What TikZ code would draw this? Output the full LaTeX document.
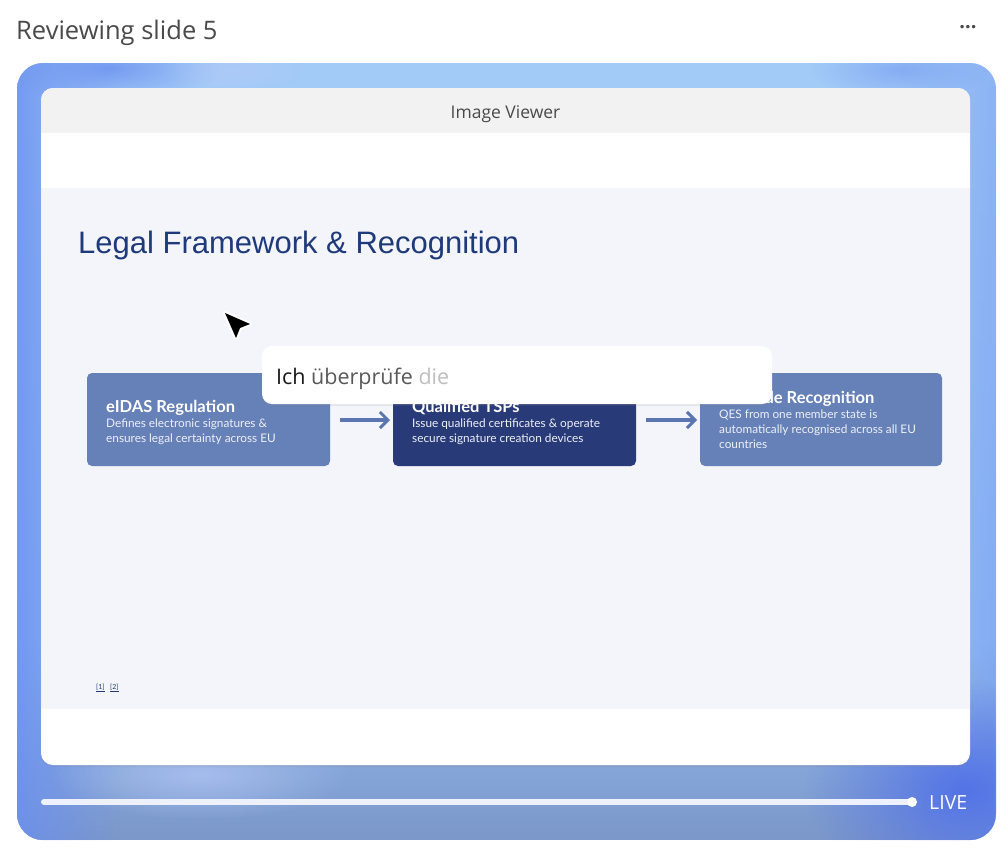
\documentclass[tikz,border=0pt]{standalone}
\usepackage{fontspec}
\setmainfont{Lato}
\newfontfamily\uifont{Open Sans}
\newfontfamily\arialfont{Liberation Sans}
\usetikzlibrary{fadings,shadows,arrows.meta}
\definecolor{boxlight}{HTML}{6680B8}
\definecolor{boxdark}{HTML}{293A78}
\definecolor{arrowc}{HTML}{5B75B0}
\definecolor{titleblue}{HTML}{1F3A7A}
\definecolor{slidebg}{HTML}{F4F5FA}
\definecolor{barbg}{HTML}{F2F2F2}
\definecolor{uigray}{HTML}{4A4A4A}
\definecolor{framebase}{HTML}{96C0F5}
\definecolor{frametop}{HTML}{A3CBF7}
\definecolor{framebottom}{HTML}{7C97C9}
\definecolor{frameleft}{HTML}{6A8FF0}
\definecolor{framecorner}{HTML}{4F6FE8}
\definecolor{framelight}{HTML}{B4C8F7}
\definecolor{sliderc}{HTML}{EEF1FB}
\tikzfading[name=softblob, inner color=transparent!0, outer color=transparent!100]
\tikzset{
  stepbox/.style={rounded corners=5pt, inner sep=0pt},
  flowarrow/.style={draw=arrowc, line width=3.5pt, -{Straight Barb[length=8pt,width=16pt,line width=3pt]}},
  boxtitle/.style={anchor=base west, inner sep=0pt, text=white, font=\bfseries\fontsize{16.5}{18}\selectfont},
  boxtext/.style={anchor=north west, inner sep=0pt, text=white!88!boxlight, align=left, font=\fontsize{11.8}{15}\selectfont},
  blob/.style={path fading=softblob},
}
\begin{document}
\begin{tikzpicture}[x=1pt,y=-1pt]
\useasboundingbox (0,0) rectangle (1008,852);
\fill[white] (0,0) rectangle (1008,852);
% header
\node[anchor=base west, inner sep=0pt, text=uigray, font=\uifont\fontsize{25.5}{28}\selectfont] (hdr) at (16,39) {Reviewing slide 5};
\node[anchor=center, inner sep=0pt, text=uigray, font=\uifont\bfseries\fontsize{20}{20}\selectfont] (dots) at (968,27) {...};
% outer frame
\begin{scope}
  \clip[rounded corners=26pt] (17,63) rectangle (996,840);
  \shade[top color=frametop, bottom color=framebase] (17,63) rectangle (996,620);
  \fill[framebase] (17,600) rectangle (996,840);
  \fill[framebottom, path fading=north] (17,640) rectangle (996,840);
  \fill[frameleft, path fading=east, opacity=0.8] (17,40) rectangle (120,860);
  \fill[frameleft, path fading=west, opacity=0.45] (900,40) rectangle (1010,860);
  \fill[framelight, blob, opacity=0.7] (200,775) ellipse (150pt and 45pt);
  \fill[framecorner, blob, opacity=0.9] (965,790) ellipse (160pt and 110pt);
  \fill[frameleft, blob, opacity=0.8] (110,68) ellipse (110pt and 35pt);
  \fill[framelight, blob, opacity=0.6] (230,70) ellipse (70pt and 25pt);
  \fill[frameleft, blob, opacity=0.5] (900,70) ellipse (90pt and 30pt);
\end{scope}
% inner panel
\fill[white, rounded corners=12pt, drop shadow={opacity=0.15, shadow xshift=0pt, shadow yshift=-2pt}] (41,88) rectangle (970,765);
\begin{scope}
  \clip[rounded corners=12pt] (41,88) rectangle (970,765);
  \fill[barbg] (41,88) rectangle (970,133);
  \fill[slidebg] (41,188) rectangle (970,709);
\end{scope}
\node[text=uigray, font=\uifont\fontsize{17.5}{20}\selectfont, inner sep=0pt] (viewer) at (505.5,114) {Image Viewer};
% slide title
\node[anchor=base west, inner sep=0pt, text=titleblue, font=\arialfont\fontsize{31}{34}\selectfont] (title) at (78,253) {Legal Framework \& Recognition};
% boxes
\fill[boxlight, stepbox] (87,373) rectangle (330,466);
\coordinate (b1w) at (87,420); \coordinate (b1e) at (330,420);
\fill[boxdark, stepbox] (393,373) rectangle (636,466);
\coordinate (b2w) at (393,420); \coordinate (b2e) at (636,420);
\fill[boxlight, stepbox] (700,373) rectangle (942,466);
\coordinate (b3w) at (700,420);
\node[boxtitle] (t1) at (106,412) {eIDAS Regulation};
\node[boxtext] (d1) at (106,419) {Defines electronic signatures \&\\ensures legal certainty across EU};
\node[boxtitle] (t2) at (412,412) {Qualified TSPs};
\node[boxtext] (d2) at (412,419) {Issue qualified certificates \& operate\\secure signature creation devices};
\node[boxtitle] (t3) at (719,403) {EU-wide Recognition};
\node[boxtext] (d3) at (719,410) {QES from one member state is\\automatically recognised across all EU\\countries};
\draw[flowarrow] ([xshift=10pt]b1e) -- ([xshift=-3pt]b2w);
\draw[flowarrow] ([xshift=10pt]b2e) -- ([xshift=-3pt]b3w);
% refs
\node[anchor=base west, inner sep=0pt, text=titleblue, font=\fontsize{7}{8}\selectfont] (r1) at (96,689) {\underline{[1]}};
\node[anchor=base west, inner sep=0pt, text=titleblue, font=\fontsize{7}{8}\selectfont] (r2) at (110,689) {\underline{[2]}};
% popup
\fill[white, rounded corners=10pt, drop shadow={opacity=0.12, shadow xshift=0pt, shadow yshift=-2pt}] (262,346) rectangle (772,404);
\node[anchor=base west, inner sep=0pt, font=\uifont\fontsize{21.5}{24}\selectfont] (pop) at (276,384) {\textcolor{black!90}{Ich} \textcolor{black!65}{überprüfe} \textcolor{black!25}{die}};
% cursor
\draw[white, line width=4pt, line join=round, fill=white] (225,313) -- (250,324) -- (240,328) -- (236,338) -- cycle;
\fill[black] (225,313) -- (250,324) -- (240,328) -- (236,338) -- cycle;
% slider
\draw[sliderc, line width=6pt, line cap=round] (44,802) -- (911,802);
\fill[white] (912,802) circle (5pt);
\node[anchor=west, inner sep=0pt, text=white, font=\uifont\fontsize{19.5}{22}\selectfont] (live) at (929,803) {LIVE};
\end{tikzpicture}
\end{document}
